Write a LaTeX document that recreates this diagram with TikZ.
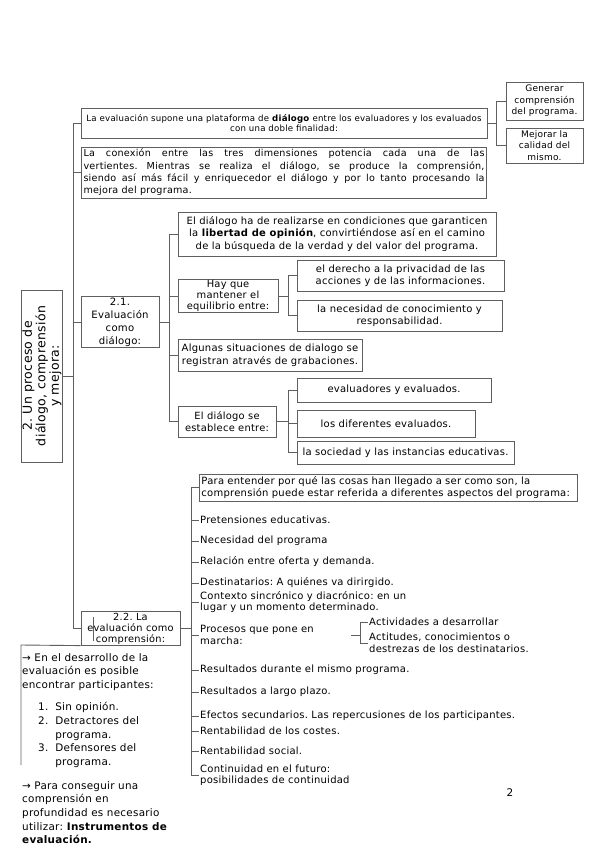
\documentclass[tikz,border=0pt]{standalone}
\usepackage{fontspec}
\setmainfont{DejaVu Sans}[LetterSpace=2.5]
\frenchspacing
\usetikzlibrary{positioning}
\definecolor{linegray}{RGB}{95,95,95}
\tikzset{
  mapbox/.style={
    rectangle, draw=linegray, fill=white, line width=0.9pt,
    align=center, inner sep=1pt, font=\fontsize{10}{12.5}\selectfont
  },
  leaf/.style={anchor=west, inner sep=1pt, align=left, font=\fontsize{10}{11.5}\selectfont},
  note/.style={anchor=north west, inner sep=0pt, align=left, font=\fontsize{10.4}{13.7}\selectfont},
  branch/.style={draw=linegray, line width=0.9pt}
}

\begin{document}
\begin{tikzpicture}[x=1pt, y=-1pt]
  \useasboundingbox (0,0) rectangle (599,848);

  %% ---- title ----
  \node[mapbox, rotate=90, minimum width=172pt, minimum height=40pt,
        font=\fontsize{12.5}{13.5}\selectfont] (title) at (42,376)
    {2. Un proceso de\\diálogo, comprensión\\y mejora:};

  %% ---- top branch ----
  \node[mapbox, minimum width=406pt, minimum height=30pt,
        font=\fontsize{8.6}{10.5}\selectfont] (plat) at (284,123)
    {La evaluación supone una plataforma de \textbf{diálogo} entre los evaluadores y los evaluados\\con una doble finalidad:};
  \node[mapbox, minimum width=77pt, minimum height=38pt,
        font=\fontsize{9}{11.5}\selectfont] (gen) at (544.5,101)
    {Generar\\comprensión\\del programa.};
  \node[mapbox, minimum width=77pt, minimum height=35pt,
        font=\fontsize{9}{11.5}\selectfont] (mej) at (544.5,145.5)
    {Mejorar la\\calidad del\\mismo.};
  \node[mapbox, text width=401pt, align=justify, inner sep=2pt, minimum height=51pt,
        font=\fontsize{9.6}{12.3}\selectfont] (conex) at (284,172.5)
    {La conexión entre las tres dimensiones potencia cada una de las\linebreak
     vertientes. Mientras se realiza el diálogo, se produce la comprensión,\linebreak
     siendo así más fácil y enriquecedor el diálogo y por lo tanto procesando la\linebreak
     mejora del programa.};

  %% ---- 2.1 ----
  \node[mapbox, minimum width=78pt, minimum height=50pt,
        font=\fontsize{10.1}{13}\selectfont] (dial) at (120,322)
    {2.1.\\Evaluación\\como\\diálogo:};
  \node[mapbox, minimum width=318pt, minimum height=44pt] (cond) at (337,234)
    {El diálogo ha de realizarse en condiciones que garanticen\\la \textbf{libertad de opinión}, convirtiéndose así en el camino\\de la búsqueda de la verdad y del valor del programa.};
  \node[mapbox, minimum width=100pt, minimum height=32pt,
        font=\fontsize{9.9}{11}\selectfont] (equil) at (228,296)
    {Hay que\\mantener el\\equilibrio entre:};
  \node[mapbox, minimum width=207pt, minimum height=31pt] (priv) at (400.5,275.5)
    {el derecho a la privacidad de las\\acciones y de las informaciones.};
  \node[mapbox, minimum width=205pt, minimum height=31pt] (resp) at (399.5,315.5)
    {la necesidad de conocimiento y\\responsabilidad.};
  \node[mapbox, minimum width=184pt, minimum height=32pt] (grab) at (270,355)
    {Algunas situaciones de dialogo se\\registran através de grabaciones.};
  \node[mapbox, minimum width=98pt, minimum height=31pt,
        font=\fontsize{9.9}{11.5}\selectfont] (entre) at (227,421.5)
    {El diálogo se\\establece entre:};
  \node[mapbox, minimum width=194pt, minimum height=24pt] (ev1) at (394,390)
    {evaluadores y evaluados.};
  \node[mapbox, minimum width=178pt, minimum height=27pt] (ev2) at (386,423.5)
    {los diferentes evaluados.};
  \node[mapbox, minimum width=217pt, minimum height=23pt] (ev3) at (405.5,452.5)
    {la sociedad y las instancias educativas.};

  %% ---- 2.2 ----
  \node[mapbox, minimum width=99pt, minimum height=33pt,
        font=\fontsize{9.8}{11}\selectfont] (comp) at (130.5,628.5)
    {2.2. La\\evaluación como\\comprensión:};
  \node[mapbox, anchor=west, align=left, text width=374pt, inner sep=2pt, minimum height=27pt,
        font=\fontsize{10}{12}\selectfont] (para) at (199,487.5)
    {Para entender por qué las cosas han llegado a ser como son, la\\comprensión puede estar referida a diferentes aspectos del programa:};
  \node[leaf] (a1) at (199,520) {Pretensiones educativas.};
  \node[leaf] (a2) at (199,541) {Necesidad del programa};
  \node[leaf] (a3) at (199,562) {Relación entre oferta y demanda.};
  \node[leaf] (a4) at (199,583) {Destinatarios: A quiénes va dirirgido.};
  \node[leaf] (a5) at (199,602) {Contexto sincrónico y diacrónico: en un\\lugar y un momento determinado.};
  \node[leaf, text width=150pt] (proc) at (199,635) {Procesos que pone en\\marcha:};
  \node[leaf] (a7) at (199,670) {Resultados durante el mismo programa.};
  \node[leaf] (a8) at (199,692) {Resultados a largo plazo.};
  \node[leaf] (a9) at (199,716) {Efectos secundarios. Las repercusiones de los participantes.};
  \node[leaf] (a10) at (199,731) {Rentabilidad de los costes.};
  \node[leaf] (a11) at (199,751) {Rentabilidad social.};
  \node[leaf] (a12) at (199,775) {Continuidad en el futuro:\\posibilidades de continuidad};
  \node[leaf] (act1) at (368,622) {Actividades a desarrollar};
  \node[leaf] (act2) at (368,643) {Actitudes, conocimientos o\\destrezas de los destinatarios.};

  %% ---- notes bottom left ----
  \node[note] (part) at (22,653)
    {→ En el desarrollo de la\\evaluación es posible\\encontrar participantes:};
  \node[note] (list) at (38,701)
    {\begin{tabular}{@{}r@{\hspace{7pt}}l@{}}
       1. & Sin opinión.\\
       2. & Detractores del\\
          & programa.\\
       3. & Defensores del\\
          & programa.
     \end{tabular}};
  \node[note] (instr) at (22,781)
    {→ Para conseguir una\\comprensión en\\profundidad es necesario\\utilizar: \textbf{Instrumentos de}\\\textbf{evaluación.}};
  \node[font=\fontsize{10.5}{12}\selectfont] (pnum) at (510,793) {2};

  %% ---- trunk ----
  \draw[branch] (title.south) -- ++(10,0) |- (plat.west);
  \draw[branch] (title.south) -- ++(10,0) |- (conex.west);
  \draw[branch] (title.south) -- ++(10,0) |- (dial.west);
  \draw[branch] (title.south) -- ++(10,0) |- (comp.west);

  %% ---- top branch links ----
  \draw[branch] (plat.east) -- ++(9,0) |- (gen.west);
  \draw[branch] (plat.east) -- ++(9,0) |- (mej.west);

  %% ---- 2.1 links ----
  \draw[branch] (dial.east) -- ++(10,0) |- (cond.west);
  \draw[branch] (dial.east) -- ++(10,0) |- (equil.west);
  \draw[branch] (dial.east) -- ++(10,0) |- (grab.west);
  \draw[branch] (dial.east) -- ++(10,0) |- (entre.west);
  \draw[branch] (equil.east) -- ++(10,0) |- (priv.west);
  \draw[branch] (equil.east) -- ++(10,0) |- (resp.west);
  \draw[branch] (entre.east) -- ++(12,0) |- (ev1.west);
  \draw[branch] (entre.east) -- ++(12,0) |- (ev2.west);
  \draw[branch] (entre.east) -- ++(12,0) |- (ev3.west);

  %% ---- 2.2 links ----
  \draw[branch] (comp.east) -- ++(11,0) |- (para.west);
  \draw[branch] (comp.east) -- ++(11,0) |- (a1.west);
  \draw[branch] (comp.east) -- ++(11,0) |- (a2.west);
  \draw[branch] (comp.east) -- ++(11,0) |- (a3.west);
  \draw[branch] (comp.east) -- ++(11,0) |- (a4.west);
  \draw[branch] (comp.east) -- ++(11,0) |- (a5.west);
  \draw[branch] (comp.east) -- ++(11,0) |- (proc.west);
  \draw[branch] (comp.east) -- ++(11,0) |- (a7.west);
  \draw[branch] (comp.east) -- ++(11,0) |- (a8.west);
  \draw[branch] (comp.east) -- ++(11,0) |- (a9.west);
  \draw[branch] (comp.east) -- ++(11,0) |- (a10.west);
  \draw[branch] (comp.east) -- ++(11,0) |- (a11.west);
  \draw[branch] (comp.east) -- ++(11,0) |- (a12.west);
  \draw[branch] (proc.east) -- ++(9,0) |- (act1.west);
  \draw[branch] (proc.east) -- ++(9,0) |- (act2.west);

  %% ---- open frame round the notes ----
  \coordinate (frtop) at (21,645);
  \coordinate (frbot) at (21,765);
  \draw[branch] (comp.south west) -- (frtop) -- (frbot);
  \coordinate (cursor) at (93,617);
  \draw[branch, line width=0.6pt] (cursor) -- ++(0,24);

\end{tikzpicture}
\end{document}
